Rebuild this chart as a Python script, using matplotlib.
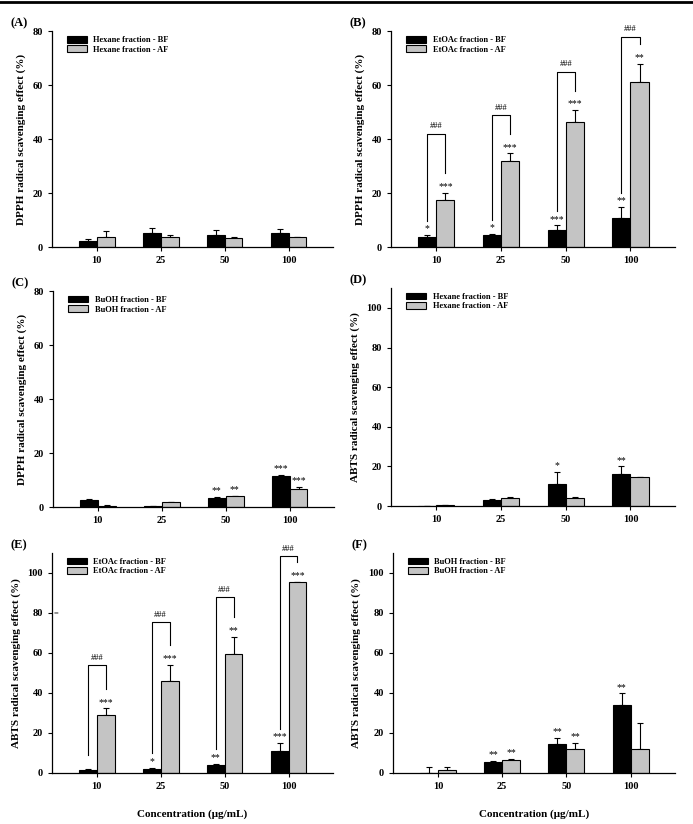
import numpy as np
import matplotlib.pyplot as plt

plt.rcParams['font.family'] = ['Liberation Serif', 'DejaVu Serif']
plt.rcParams['font.weight'] = 'bold'

conc = ['10', '25', '50', '100']

# (A) DPPH - hexane
a_bf = [2.4, 5.1, 4.4, 5.1]
a_bf_err = [0.7, 1.9, 2.0, 1.5]
a_af = [3.7, 3.7, 3.5, 3.7]
a_af_err = [2.3, 0.9, 0.4, 0.0]

# (B) DPPH - EtOAc
b_bf = [3.8, 4.5, 6.4, 10.8]
b_bf_err = [0.6, 0.5, 1.6, 4.1]
b_af = [17.5, 31.9, 46.4, 61.2]
b_af_err = [2.7, 2.8, 4.4, 6.8]
b_bf_sig = ['*', '*', '***', '**']
b_af_sig = ['***', '***', '***', '**']
b_bracket = [42, 49, 65, 78]

# (C) DPPH - BuOH
c_bf = [2.5, 0.5, 3.2, 11.6]
c_bf_err = [0.3, 0.0, 0.5, 0.4]
c_af = [0.5, 1.7, 4.0, 6.8]
c_af_err = [0.4, 0.3, 0.2, 0.6]
c_bf_sig = ['', '', '**', '***']
c_af_sig = ['', '', '**', '***']

# (D) ABTS - hexane
d_bf = [0.0, 3.0, 11.2, 16.4]
d_bf_err = [0.0, 0.4, 5.8, 3.6]
d_af = [0.7, 4.0, 4.0, 14.8]
d_af_err = [0.0, 0.5, 0.4, 0.0]
d_bf_sig = ['', '', '*', '**']

# (E) ABTS - EtOAc
e_bf = [1.7, 2.0, 4.1, 10.8]
e_bf_err = [0.3, 0.7, 0.5, 4.1]
e_af = [29.0, 46.1, 59.4, 95.4]
e_af_err = [3.3, 7.8, 8.8, 0.0]
e_bf_sig = ['', '*', '**', '***']
e_af_sig = ['***', '***', '**', '***']
e_bracket = [54, 75.5, 88, 108.5]

# (F) ABTS - BuOH
f_bf = [0.0, 5.4, 14.5, 34.1]
f_bf_err = [3.0, 0.8, 2.9, 5.7]
f_af = [1.7, 6.7, 12.2, 11.9]
f_af_err = [1.1, 0.5, 2.8, 13.0]
f_bf_sig = ['', '**', '**', '**']
f_af_sig = ['', '**', '**', '']

fig = plt.figure(figsize=(6.93, 8.24), dpi=100)
fig.add_artist(plt.Line2D([0, 1], [0.997, 0.997], transform=fig.transFigure,
                          color='k', lw=2))

W = 0.28
x = np.arange(len(conc))


def panel(rect, letter, name, ylabel, bf, bf_err, af, af_err, ymax, ticks,
          bf_sig=None, af_sig=None, bracket=None, xlabel=False):
    ax = fig.add_axes(rect)
    ax.bar(x - W / 2, bf, W, color='black', edgecolor='black', lw=0.8,
           label=f'{name} fraction - BF', zorder=2)
    ax.bar(x + W / 2, af, W, color='#c4c4c4', edgecolor='black', lw=0.8,
           label=f'{name} fraction - AF', zorder=2)
    ax.errorbar(x - W / 2, bf, yerr=[np.zeros(4), bf_err], fmt='none',
                ecolor='black', elinewidth=0.8, capsize=2.5, capthick=0.8, zorder=1)
    ax.errorbar(x + W / 2, af, yerr=[np.zeros(4), af_err], fmt='none',
                ecolor='black', elinewidth=0.8, capsize=2.5, capthick=0.8, zorder=1)
    top_bf = np.array(bf) + np.array(bf_err)
    top_af = np.array(af) + np.array(af_err)
    off = ymax * 0.008
    if bf_sig:
        for i, s in enumerate(bf_sig):
            if s:
                ax.text(x[i] - W / 2, top_bf[i] + off, s, ha='center', va='bottom',
                        fontsize=7, fontweight='normal', clip_on=False)
    if af_sig:
        for i, s in enumerate(af_sig):
            if s:
                ax.text(x[i] + W / 2, top_af[i] + off, s, ha='center', va='bottom',
                        fontsize=7, fontweight='normal', clip_on=False)
    if bracket:
        for i, bt in enumerate(bracket):
            y0 = top_bf[i] + ymax * 0.065
            y1 = top_af[i] + ymax * 0.09
            ax.plot([x[i] - W / 2, x[i] - W / 2, x[i] + W / 2, x[i] + W / 2],
                    [y0, bt, bt, y1], color='black', lw=0.8, clip_on=False)
            ax.text(x[i], bt + ymax * 0.015, '###', ha='center', va='bottom',
                    fontsize=6, fontweight='normal', clip_on=False)
    ax.set_xlim(-0.7, 3.69)
    ax.set_ylim(0, ymax)
    ax.set_yticks(ticks)
    ax.set_xticks(x)
    ax.set_xticklabels(conc)
    ax.tick_params(labelsize=7.5, length=3, width=0.8, direction='out')
    for s in ['top', 'right']:
        ax.spines[s].set_visible(False)
    for s in ['left', 'bottom']:
        ax.spines[s].set_linewidth(0.9)
    ax.set_ylabel(ylabel, fontsize=8, fontweight='bold', labelpad=5)
    if xlabel:
        ax.set_xlabel('Concentration (μg/mL)', fontsize=8, fontweight='bold', labelpad=13)
    ax.legend(loc='upper left', bbox_to_anchor=(0.035, 1.0), frameon=False,
              fontsize=6, handlelength=2.4, handleheight=0.8, labelspacing=0.15,
              borderaxespad=0.2)
    ax.text(-0.117, 1.035, f'({letter})', transform=ax.transAxes, fontsize=9,
            fontweight='bold', ha='center', va='center')
    return ax


dpph = 'DPPH radical scavenging effect (%)'
abts = 'ABTS radical scavenging effect (%)'
t80 = [0, 20, 40, 60, 80]
t100 = [0, 20, 40, 60, 80, 100]

panel([0.075, 0.7002, 0.405, 0.262], 'A', 'Hexane', dpph,
      a_bf, a_bf_err, a_af, a_af_err, 80, t80)
panel([0.5642, 0.7002, 0.41, 0.262], 'B', 'EtOAc', dpph,
      b_bf, b_bf_err, b_af, b_af_err, 80, t80, b_bf_sig, b_af_sig, b_bracket)
panel([0.0765, 0.3847, 0.405, 0.262], 'C', 'BuOH', dpph,
      c_bf, c_bf_err, c_af, c_af_err, 80, t80, c_bf_sig, c_af_sig)
panel([0.5642, 0.3859, 0.41, 0.2645], 'D', 'Hexane', abts,
      d_bf, d_bf_err, d_af, d_af_err, 110, t100, d_bf_sig)
ax_e = panel([0.075, 0.0619, 0.405, 0.267], 'E', 'EtOAc', abts,
             e_bf, e_bf_err, e_af, e_af_err, 110, t100, e_bf_sig, e_af_sig,
             e_bracket, xlabel=True)
ax_e.text(0.005, 80, '=', transform=ax_e.get_yaxis_transform(), fontsize=6,
          ha='left', va='center', fontweight='normal')
panel([0.567, 0.0619, 0.407, 0.267], 'F', 'BuOH', abts,
      f_bf, f_bf_err, f_af, f_af_err, 110, t100, f_bf_sig, f_af_sig, xlabel=True)

plt.savefig('out.png', dpi=100)
